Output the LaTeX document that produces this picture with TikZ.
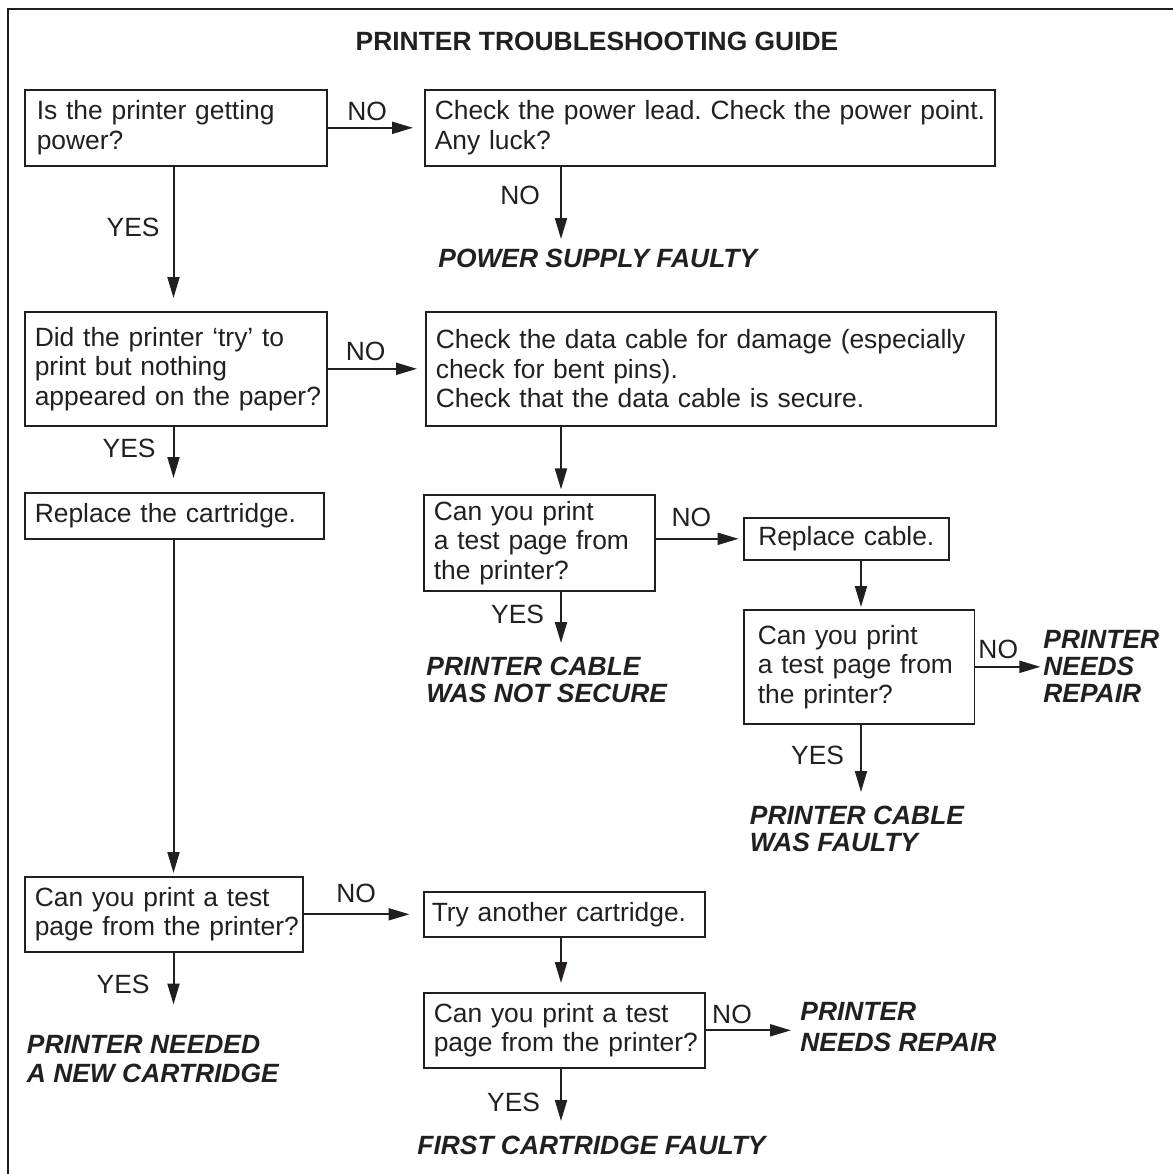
\documentclass[tikz,border=0pt]{standalone}
\usepackage{fontspec}
\setmainfont{Liberation Sans}
\usepackage{tikz}
\usetikzlibrary{arrows.meta}
\definecolor{ink}{HTML}{231F20}
\frenchspacing

\begin{document}
\begin{tikzpicture}[x=0.5pt,y=-0.5pt,
    every node/.style={text=ink},
    bx/.style={draw=ink,line width=0.8pt,anchor=north west,align=left,
               inner xsep=5pt,inner ysep=1pt,font=\fontsize{13.2}{14.7}\selectfont},
    res/.style={anchor=north west,align=left,inner sep=0pt,
                font=\fontsize{13.2}{#1}\selectfont\bfseries\itshape},
    res/.default=13.5pt,
    ttl/.style={anchor=base,inner sep=0pt,font=\fontsize{13.2}{14.7}\selectfont\bfseries},
    lab/.style={inner sep=0pt,font=\fontsize{13.2}{14.7}\selectfont},
    lnk/.style={draw=ink,line width=1pt,-{Triangle[length=10.5pt,width=6pt]}}]

  \useasboundingbox (0,0) rectangle (1173,1174);
  \draw[ink,line width=1pt] (1173,9) -- (8,9) -- (8,1174);

  \node[ttl] (title) at (597,50) {PRINTER TROUBLESHOOTING GUIDE};

  \node[bx,inner xsep=6pt,text width=139pt,minimum height=38pt] (pwr) at (24,89)
    {Is the printer getting\\power?};
  \node[bx,text width=275pt,minimum height=38pt] (lead) at (424,89)
    {\mbox{Check the power lead. Check the power point.}\\Any luck?};
  \node[res] (psf) at (438,249) {POWER SUPPLY FAULTY};

  \node[bx,text width=141pt,minimum height=57pt] (tried) at (24,311)
    {Did the printer ‘try’ to\\print but nothing\\\mbox{appeared on the paper?}};
  \node[bx,text width=275pt,minimum height=57pt] (data) at (425,311)
    {\mbox{Check the data cable for damage (especially}\\check for bent pins).\\Check that the data cable is secure.};
  \node[bx,text width=139.5pt,minimum height=23pt] (repl) at (24,492)
    {Replace the cartridge.};

  \node[bx,text width=105.5pt,minimum height=48pt] (test1) at (423,494)
    {Can you print\\a test page from\\the printer?};
  \node[bx,align=center,text width=92.5pt,minimum height=21pt] (cable) at (743,517)
    {Replace cable.};
  \node[res] (sec) at (426,657) {PRINTER CABLE\\WAS NOT SECURE};
  \node[bx,inner xsep=7pt,text width=101.3pt,minimum height=57pt] (test2) at (743,609)
    {Can you print\\a test page from\\the printer?};
  \node[res] (needs1) at (1043,629.5) {PRINTER\\NEEDS\\REPAIR};
  \node[res] (cfault) at (749.5,806) {PRINTER CABLE\\WAS FAULTY};

  \node[bx,text width=129pt,minimum height=37.5pt] (test3) at (24,876)
    {Can you print a test\\\mbox{page from the printer?}};
  \node[res=14.7pt] (newcart) at (26.5,1034.5) {PRINTER NEEDED\\A NEW CARTRIDGE};
  \node[bx,inner xsep=4pt,text width=132.5pt,minimum height=22.5pt] (cart2) at (423,891)
    {Try another cartridge.};
  \node[bx,text width=130.5pt,minimum height=37.5pt] (test4) at (423,992)
    {Can you print a test\\\mbox{page from the printer?}};
  \node[res=15.5pt] (needs2) at (800,1002) {PRINTER\\NEEDS REPAIR};
  \node[res] (first) at (417,1136) {FIRST CARTRIDGE FAULTY};

  \coordinate (lc) at (173.5,0);
  \coordinate (mc) at (561,0);
  \coordinate (rc) at (861,0);

  \draw[lnk,shorten >=5.5pt] (pwr.east) -- node[lab,above=3pt,pos=.41] {NO} (lead.west);
  \draw[lnk,shorten >=5pt] (lead.south -| mc) -- node[lab,left=10pt,pos=.35] {NO} (psf.north -| mc);
  \draw[lnk,shorten >=6.5pt] (pwr.south -| lc) -- node[lab,left=6.5pt,pos=.42] {YES} (tried.north -| lc);
  \draw[lnk,shorten >=4pt] (tried.east) -- node[lab,above=3.5pt,pos=.39] {NO} (data.west);
  \draw[lnk,shorten >=7pt] (tried.south -| lc) -- node[lab,left=8.5pt,pos=.34] {YES} (repl.north -| lc);
  \draw[lnk,shorten >=1.5pt] (repl.south -| lc) -- (test3.north -| lc);
  \draw[lnk,shorten >=2.3pt] (data.south -| mc) -- (test1.north -| mc);
  \draw[lnk,shorten >=2.2pt] (test1.east |- cable.west) -- node[lab,above=5.75pt,pos=.41] {NO} (cable.west);
  \draw[lnk,shorten >=7pt] (test1.south -| mc) -- node[lab,left=8pt,pos=.35] {YES} (sec.north -| mc);
  \draw[lnk,shorten >=1pt] (cable.south -| rc) -- (test2.north -| rc);
  \draw[lnk,shorten >=1.3pt] (test2.east) -- node[lab,above=3.3pt,pos=.34] {NO} (test2.east -| needs1.west);
  \draw[lnk,shorten >=7pt] (test2.south -| rc) -- node[lab,left=8pt,pos=.38] {YES} (cfault.north -| rc);
  \draw[lnk,shorten >=6.75pt] (test3.east) -- node[lab,above=5.25pt,pos=.44] {NO} (cart2.west);
  \draw[lnk,shorten >=15pt] (test3.south -| lc) -- node[lab,left=11.5pt,pos=.39] {YES} (newcart.north -| lc);
  \draw[lnk,shorten >=4.5pt] (cart2.south -| mc) -- (test4.north -| mc);
  \draw[lnk,shorten >=4.5pt] (test4.east) -- node[lab,above=3pt,pos=.28] {NO} (test4.east -| needs2.west);
  \draw[lnk,shorten >=7.5pt] (test4.south -| mc) -- node[lab,left=10pt,pos=.5] {YES} (first.north -| mc);
\end{tikzpicture}
\end{document}
